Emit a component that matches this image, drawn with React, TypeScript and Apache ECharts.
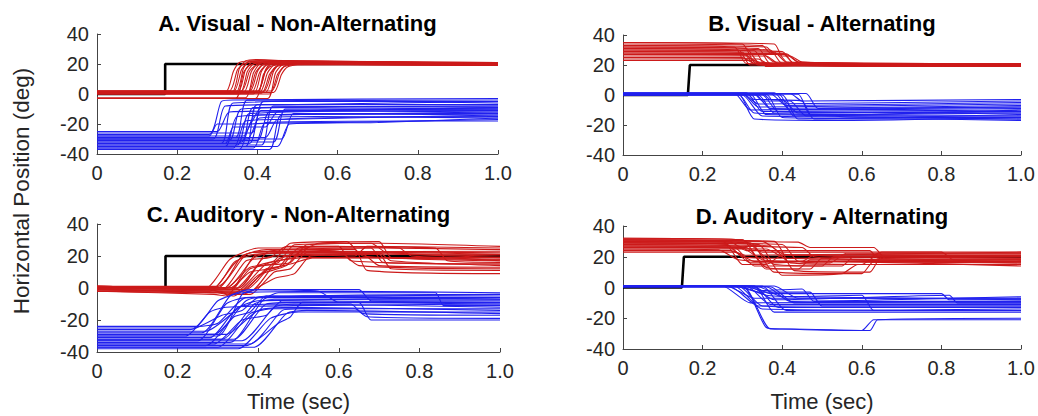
import React, { useEffect, useRef } from "react";
import * as echarts from "echarts";

const FONT = "'Liberation Sans', Arial, Helvetica, sans-serif";
const RED = "#cc1a1a";
const BLUE = "#2020ee";

const panelTitles = [
  "A. Visual - Non-Alternating",
  "B. Visual - Alternating",
  "C. Auditory - Non-Alternating",
  "D. Auditory - Alternating",
];
const xLabel = "Time (sec)";
const yLabel = "Horizontal Position (deg)";

// target (black) steps, flat [t, y, ...]
const targetA = [0, 0, 0.17, 0, 0.17, 20, 1, 20];
const targetB = [0, 0, 0.163, 0, 0.168, 20, 1, 20];
const targetC = [0, 0, 0.17, 0, 0.17, 20, 1, 20];
const targetD = [0, 0, 0.148, 0, 0.153, 20, 1, 20];

// eye traces, each a flat [t, y, t, y, ...] list
const redA = [
  [0, 1, 0.32, 1, 0.34, 15, 0.355, 21, 0.38, 22, 0.5, 21, 1, 20],
  [0, 2, 0.33, 2, 0.35, 16, 0.365, 20, 0.39, 21, 1, 19.5],
  [0, 0.5, 0.335, 0.5, 0.355, 17, 0.37, 22, 0.4, 23, 0.55, 21, 1, 20.5],
  [0, 1.5, 0.34, 1.5, 0.36, 16, 0.375, 21, 0.4, 22, 1, 21],
  [0, -3, 0.345, -3, 0.365, 14, 0.38, 19, 0.41, 21, 1, 19],
  [0, 1, 0.35, 1, 0.37, 16, 0.385, 21, 0.41, 22.5, 1, 20],
  [0, 0, 0.355, 0, 0.375, 15, 0.39, 20, 0.42, 21, 1, 20],
  [0, 2, 0.36, 2, 0.38, 15, 0.395, 19, 0.42, 20, 1, 19],
  [0, 1, 0.365, 1, 0.385, 15, 0.4, 20, 0.43, 21.5, 1, 21],
  [0, -2.5, 0.37, -2.5, 0.39, 14, 0.405, 20, 0.43, 22, 1, 20],
  [0, 0.5, 0.375, 0.5, 0.395, 14, 0.41, 19, 0.44, 20.5, 1, 19.5],
  [0, 1.5, 0.38, 1.5, 0.4, 15, 0.415, 20, 0.44, 21, 1, 20.5],
  [0, 1, 0.385, 1, 0.405, 14, 0.42, 19, 0.45, 20, 1, 19],
  [0, 0, 0.39, 0, 0.41, 15, 0.425, 20, 0.45, 21, 1, 21],
  [0, -3, 0.395, -3, 0.415, 13, 0.43, 18, 0.46, 20, 1, 20],
  [0, 2, 0.4, 2, 0.42, 15, 0.435, 20, 0.46, 21, 1, 19.5],
  [0, 1, 0.405, 1, 0.425, 14, 0.44, 19, 0.47, 20.5, 1, 20],
  [0, 0.5, 0.41, 0.5, 0.43, 13, 0.445, 18, 0.47, 19.5, 1, 21],
  [0, 1.5, 0.415, 1.5, 0.435, 14, 0.45, 19, 0.48, 20, 1, 19],
  [0, 1, 0.42, 1, 0.44, 15, 0.455, 20, 0.48, 21, 1, 20],
  [0, -3, 0.425, -3, 0.445, 14, 0.46, 19, 0.49, 20, 1, 20.5],
  [0, 0, 0.43, 0, 0.45, 13, 0.465, 18, 0.49, 19.5, 1, 19.5],
  [0, 2, 0.435, 2, 0.455, 14, 0.47, 19, 0.5, 20, 1, 20],
  [0, 1, 0.44, 1, 0.46, 13, 0.475, 18, 0.5, 19.5, 1, 19.5],
  [0, 0.5, 0.345, 0.5, 0.365, 17, 0.38, 22, 0.41, 22, 1, 20.5],
  [0, 1.5, 0.4, 1.5, 0.42, 16, 0.435, 21, 0.47, 21, 1, 19.5],
];

const blueA = [
  [0, -27, 0.28, -27, 0.31, -5, 0.34, -4, 1, -3],
  [0, -30, 0.29, -30, 0.32, -8, 0.5, -7, 1, -5],
  [0, -25, 0.3, -25, 0.33, -12, 0.6, -11, 1, -9],
  [0, -33, 0.31, -33, 0.34, -6, 1, -4],
  [0, -35, 0.32, -35, 0.35, -15, 0.7, -13, 1, -12],
  [0, -31, 0.33, -31, 0.36, -10, 1, -8],
  [0, -36, 0.34, -36, 0.37, -18, 0.45, -17, 1, -14],
  [0, -29, 0.345, -29, 0.375, -4, 1, -6],
  [0, -34, 0.35, -34, 0.38, -13, 1, -11],
  [0, -37, 0.355, -37, 0.385, -20, 0.6, -19, 1, -17],
  [0, -32, 0.36, -32, 0.39, -9, 1, -10],
  [0, -28, 0.365, -28, 0.395, -14, 1, -13],
  [0, -35, 0.37, -35, 0.4, -7, 1, -7],
  [0, -30, 0.375, -30, 0.405, -16, 0.55, -15, 1, -16],
  [0, -33, 0.38, -33, 0.41, -11, 1, -12],
  [0, -26, 0.385, -26, 0.415, -5, 1, -5],
  [0, -36, 0.39, -36, 0.42, -19, 0.8, -18, 1, -18],
  [0, -31, 0.4, -31, 0.43, -12, 1, -10],
  [0, -34, 0.41, -34, 0.44, -8, 1, -9],
  [0, -29, 0.42, -29, 0.45, -17, 1, -15],
  [0, -37, 0.43, -37, 0.46, -14, 1, -13],
  [0, -32, 0.44, -32, 0.47, -10, 1, -11],
  [0, -35, 0.45, -35, 0.48, -20, 0.7, -19, 1, -16],
  [0, -30, 0.46, -30, 0.49, -13, 1, -14],
  [0, -28, 0.28, -28, 0.3, -20, 0.38, -20, 0.41, -9, 1, -8],
  [0, -33, 0.32, -33, 0.34, -22, 0.42, -22, 0.45, -12, 1, -10],
];

const redB = [
  [0, 35, 0.3, 34, 0.33, 22, 0.4, 21, 1, 20],
  [0, 33, 0.28, 32, 0.31, 21, 1, 19.5],
  [0, 31, 0.29, 30, 0.32, 20, 1, 20.5],
  [0, 29, 0.3, 28.5, 0.33, 21, 1, 21],
  [0, 27, 0.31, 26.5, 0.34, 20, 1, 19],
  [0, 25, 0.32, 24.5, 0.35, 20, 1, 20],
  [0, 23, 0.33, 23, 0.36, 19.5, 1, 20],
  [0, 34, 0.35, 33, 0.37, 28, 0.4, 28, 0.43, 21, 1, 20.5],
  [0, 32, 0.34, 31, 0.37, 21, 1, 19.5],
  [0, 30, 0.33, 29.5, 0.36, 19, 0.5, 20, 1, 20],
  [0, 28, 0.35, 27.5, 0.38, 22, 1, 21],
  [0, 26, 0.36, 26, 0.39, 21, 1, 20],
  [0, 24, 0.34, 24, 0.37, 20, 1, 19],
  [0, 33, 0.36, 32, 0.38, 27, 0.41, 27, 0.44, 22, 1, 20],
  [0, 31, 0.37, 30, 0.4, 21, 1, 20.5],
  [0, 29, 0.38, 28.5, 0.41, 22, 1, 21],
  [0, 27, 0.39, 27, 0.42, 20, 1, 19.5],
  [0, 35, 0.38, 34, 0.4, 26, 0.42, 26, 0.45, 22, 1, 20],
  [0, 30, 0.4, 29, 0.43, 21, 1, 20],
  [0, 28, 0.41, 27.5, 0.44, 22, 0.6, 20, 1, 19],
  [0, 25, 0.3, 25, 0.33, 21, 0.7, 19, 1, 20.5],
  [0, 32, 0.31, 31, 0.34, 22, 0.5, 21, 1, 20],
];

const blueB = [
  [0, 1, 0.28, 1, 0.32, -10, 1, -8],
  [0, 0.5, 0.29, 0.5, 0.33, -12, 0.6, -13, 1, -12],
  [0, 1, 0.3, 1, 0.34, -8, 1, -6],
  [0, 0, 0.3, 0, 0.35, -14, 1, -15],
  [0, 1.5, 0.31, 1.5, 0.35, -11, 1, -10],
  [0, 0.5, 0.32, 0.5, 0.36, -13, 1, -14],
  [0, 1, 0.33, 1, 0.37, -9, 1, -7],
  [0, 0, 0.34, 0, 0.38, -12, 1, -11],
  [0, 1, 0.35, 1, 0.37, -3, 0.45, -4, 0.48, -16, 1, -16],
  [0, 0.5, 0.36, 0.5, 0.4, -15, 0.78, -16, 1, -17],
  [0, 1, 0.37, 1, 0.41, -7, 1, -5],
  [0, 1.5, 0.38, 1.5, 0.42, -10, 1, -9],
  [0, 0, 0.4, 0, 0.44, -16, 1, -13],
  [0, 1, 0.42, 1, 0.45, -4, 1, -3],
  [0, 0.5, 0.44, 0.5, 0.47, -13, 0.7, -15, 1, -16],
  [0, 1, 0.46, 1, 0.49, -9, 1, -8],
  [0, 1, 0.31, 1, 0.33, -3, 0.4, -3, 0.44, -12, 1, -11],
  [0, 0.5, 0.33, 0.5, 0.35, -4, 0.42, -4, 0.46, -14, 1, -14],
  [0, 1, 0.3, 1, 0.34, -6, 1, -4],
  [0, 0, 0.35, 0, 0.39, -11, 1, -12],
  [0, 1, 0.39, 1, 0.43, -14, 1, -10],
  [0, 0.5, 0.29, 0.5, 0.33, -16, 0.55, -17, 1, -15],
];

const redC = [
  [0, 0, 0.27, 0, 0.33, 18, 0.4, 25, 0.7, 25, 1, 24],
  [0, -1, 0.28, -2, 0.34, 15, 0.38, 22, 0.5, 23, 0.55, 28, 0.7, 29, 0.73, 19, 1, 18],
  [0, 1, 0.3, 0, 0.36, 20, 0.42, 24, 0.6, 23, 0.65, 14, 1, 12],
  [0, -2, 0.29, -4, 0.32, -5, 0.38, 12, 0.45, 16, 0.49, 27, 0.68, 28, 0.72, 22, 1, 21],
  [0, 0, 0.31, -1, 0.37, 17, 0.43, 19, 0.47, 26, 0.84, 25, 0.87, 17, 1, 16],
  [0, 1, 0.32, 0, 0.38, 13, 0.48, 16, 0.52, 27, 0.7, 28, 1, 26],
  [0, -1, 0.3, -3, 0.34, -5, 0.4, 8, 0.47, 14, 0.51, 24, 0.64, 24, 0.67, 11, 1, 9],
  [0, 0, 0.33, -1, 0.39, 20, 0.46, 22, 1, 20],
  [0, -2, 0.34, -3, 0.42, 15, 0.5, 20, 0.53, 26, 0.75, 25, 0.78, 20, 1, 19],
  [0, 1, 0.35, 0, 0.41, 18, 0.44, 20, 0.7, 21, 0.73, 12, 1, 11],
  [0, 0, 0.28, -1, 0.33, -4, 0.38, -4, 0.44, 10, 0.48, 12, 0.52, 22, 1, 23],
  [0, -1, 0.36, -2, 0.42, 12, 0.46, 14, 0.5, 25, 0.6, 26, 0.63, 17, 1, 15],
  [0, 1, 0.3, 1, 0.37, 21, 0.42, 23, 1, 22],
  [0, 0, 0.37, -1, 0.44, 16, 0.52, 19, 0.85, 19, 1, 17],
  [0, -2, 0.31, -3, 0.36, -4, 0.44, 6, 0.49, 9, 0.53, 20, 0.66, 21, 0.7, 14, 1, 13],
  [0, 0, 0.29, 0, 0.34, 16, 0.39, 21, 0.58, 22, 1, 19],
  [0, 1, 0.33, 0, 0.38, 10, 0.45, 13, 0.49, 23, 0.8, 22, 1, 21],
  [0, -1, 0.38, -2, 0.45, 18, 0.5, 21, 0.64, 20, 0.67, 26, 1, 25],
  [0, 0, 0.34, -1, 0.4, 14, 0.44, 17, 0.48, 28, 0.62, 29, 0.66, 20, 1, 17],
  [0, 1, 0.32, 0, 0.39, 19, 0.44, 22, 0.7, 22, 0.73, 17, 1, 14],
  [0, -1, 0.3, -2, 0.35, -3, 0.42, 11, 0.48, 15, 0.54, 19, 1, 18],
  [0, 0, 0.35, 0, 0.42, 22, 0.46, 24, 0.68, 25, 0.71, 16, 1, 15],
];

const blueC = [
  [0, -25, 0.24, -25, 0.3, -8, 0.36, -3, 0.6, -2, 1, -3],
  [0, -30, 0.22, -30, 0.28, -15, 0.32, -12, 0.5, -11, 1, -10],
  [0, -33, 0.25, -33, 0.32, -10, 0.37, -6, 1, -6],
  [0, -28, 0.26, -28, 0.33, -5, 0.38, -1, 0.65, -1, 0.68, -8, 1, -8],
  [0, -36, 0.27, -36, 0.34, -18, 0.38, -15, 0.42, -5, 1, -5],
  [0, -31, 0.28, -31, 0.35, -12, 0.45, -10, 1, -12],
  [0, -35, 0.29, -35, 0.36, -20, 0.42, -17, 0.46, -8, 1, -9],
  [0, -24, 0.25, -24, 0.3, -22, 0.37, -6, 0.7, -5, 1, -4],
  [0, -37, 0.3, -37, 0.38, -16, 0.44, -13, 0.64, -13, 0.67, -18, 1, -19],
  [0, -32, 0.31, -32, 0.39, -10, 0.44, -7, 1, -7],
  [0, -29, 0.32, -29, 0.4, -14, 0.48, -12, 1, -14],
  [0, -34, 0.33, -34, 0.41, -8, 0.45, -3, 0.84, -3, 0.86, -11, 1, -11],
  [0, -38, 0.35, -38, 0.43, -19, 0.5, -15, 1, -15],
  [0, -27, 0.27, -27, 0.36, -11, 0.4, -8, 1, -6],
  [0, -33, 0.36, -33, 0.44, -12, 0.49, -10, 0.63, -10, 0.66, -16, 1, -17],
  [0, -36, 0.37, -36, 0.45, -22, 0.48, -18, 0.51, -9, 1, -10],
  [0, -30, 0.3, -30, 0.36, -4, 0.4, -1, 0.55, -2, 0.6, -9, 1, -9],
  [0, -35, 0.38, -35, 0.46, -14, 0.5, -13, 1, -13],
  [0, -26, 0.23, -26, 0.31, -17, 0.36, -14, 0.4, -6, 1, -4],
  [0, -32, 0.34, -32, 0.42, -10, 0.5, -9, 0.65, -9, 0.68, -20, 1, -20],
  [0, -37, 0.39, -37, 0.47, -16, 0.52, -14, 1, -16],
  [0, -29, 0.29, -29, 0.37, -8, 0.42, -5, 1, -7],
];

const redD = [
  [0, 31, 0.25, 30, 0.3, 20, 0.4, 19, 1, 20],
  [0, 29, 0.26, 28, 0.32, 16, 0.45, 17, 0.48, 21, 1, 22],
  [0, 27, 0.28, 26, 0.33, 14, 0.5, 14, 0.53, 20, 1, 19],
  [0, 25, 0.24, 24.5, 0.29, 18, 0.38, 17, 1, 17],
  [0, 32, 0.3, 31, 0.36, 12, 0.47, 12, 0.5, 19, 1, 21],
  [0, 30, 0.32, 29, 0.38, 10, 0.6, 9, 0.63, 17, 1, 18],
  [0, 28, 0.29, 27, 0.35, 18, 0.42, 17, 1, 16],
  [0, 26, 0.33, 25, 0.38, 15, 0.55, 14, 0.58, 20, 1, 20],
  [0, 24, 0.27, 24, 0.31, 21, 1, 23],
  [0, 31, 0.35, 30, 0.4, 22, 0.45, 21, 0.62, 20, 0.65, 23, 1, 23],
  [0, 29, 0.34, 28, 0.4, 8, 0.55, 9, 0.59, 15, 1, 15],
  [0, 27, 0.45, 26, 0.48, 20, 0.6, 18, 1, 17],
  [0, 30, 0.44, 29.5, 0.47, 26, 0.63, 26, 0.66, 19, 1, 19],
  [0, 28, 0.37, 27, 0.42, 16, 0.6, 15, 0.64, 21, 1, 21],
  [0, 25, 0.36, 25, 0.41, 19, 1, 18],
  [0, 32, 0.3, 31, 0.35, 23, 0.8, 23, 0.83, 18, 1, 17],
  [0, 26, 0.31, 26, 0.36, 13, 0.44, 12, 0.47, 18, 1, 16],
  [0, 29, 0.4, 28, 0.44, 17, 0.52, 16, 0.56, 22, 1, 22],
  [0, 23, 0.28, 23, 0.33, 17, 0.5, 17, 1, 14],
  [0, 31, 0.38, 30, 0.43, 11, 0.62, 10, 0.65, 20, 1, 20],
  [0, 27, 0.26, 27, 0.3, 15, 0.36, 15, 0.4, 21, 1, 21],
  [0, 30, 0.27, 29.5, 0.31, 24, 0.62, 24, 0.64, 19, 1, 18],
];

const blueD = [
  [0, 1, 0.25, 1, 0.32, -10, 1, -9],
  [0, 1, 0.26, 1, 0.33, -7, 1, -7],
  [0, 0.5, 0.27, 0.5, 0.34, -12, 1, -12],
  [0, 1, 0.28, 1, 0.35, -14, 1, -15],
  [0, 1, 0.29, 1, 0.36, -5, 0.45, -6, 1, -8],
  [0, 0.5, 0.3, 0.5, 0.36, -26, 0.4, -27, 0.6, -28, 0.63, -21, 1, -21],
  [0, 1, 0.3, 1, 0.37, -27, 0.42, -27, 0.62, -28, 0.64, -21, 1, -20],
  [0, 1, 0.31, 1, 0.37, -11, 1, -11],
  [0, 0.5, 0.32, 0.5, 0.38, -8, 0.82, -5, 0.84, -10, 1, -10],
  [0, 1, 0.33, 1, 0.39, -13, 1, -13],
  [0, 1, 0.3, 1, 0.35, -2, 0.45, -1, 0.48, -9, 1, -9],
  [0, 0.5, 0.34, 0.5, 0.4, -6, 0.6, -5, 0.63, -15, 1, -15],
  [0, 1, 0.28, 1, 0.34, -3, 0.47, -3, 0.5, -12, 1, -12],
  [0, 1, 0.35, 1, 0.41, -15, 1, -14],
  [0, 0.5, 0.36, 0.5, 0.42, -9, 1, -6],
  [0, 1, 0.32, 1, 0.37, -4, 0.8, -4, 0.82, -8, 1, -8],
  [0, 1, 0.33, 1, 0.38, -16, 1, -16],
  [0, 0.5, 0.37, 0.5, 0.43, -10, 1, -10],
  [0, 1, 0.29, 1, 0.35, -12, 0.6, -13, 1, -13],
  [0, 1, 0.38, 1, 0.44, -7, 1, -7],
];

const targets = [targetA, targetB, targetC, targetD];
const reds = [redA, redB, redC, redD];
const blues = [blueA, blueB, blueC, blueD];

// layout (pixels)
const grids = [
  { left: 97, top: 34, width: 401, height: 120 },
  { left: 623, top: 35, width: 398, height: 120 },
  { left: 97, top: 224, width: 403, height: 128 },
  { left: 623, top: 226, width: 398, height: 123 },
];

function pairs(flat: number[]): number[][] {
  const out: number[][] = [];
  for (let i = 0; i + 1 < flat.length; i += 2) out.push([flat[i], flat[i + 1]]);
  return out;
}

export default function App() {
  const ref = useRef<HTMLDivElement>(null);
  useEffect(() => {
    if (!ref.current) return;
    const chart = echarts.init(ref.current, null, { renderer: "svg" });
    const axisColor = "#444";
    const textColor = "#262626";

    const xAxis = grids.map((_, i) => ({
      type: "value",
      gridIndex: i,
      min: 0,
      max: 1,
      interval: 0.2,
      axisLine: { show: true, onZero: false, lineStyle: { color: axisColor, width: 1 } },
      axisTick: { show: true, inside: true, length: 4, lineStyle: { color: axisColor } },
      splitLine: { show: false },
      axisLabel: {
        fontFamily: FONT,
        fontSize: 20,
        color: textColor,
        margin: 9,
        formatter: (v: number) => (v === 0 ? "0" : v.toFixed(1)),
      },
    }));
    const yAxis = grids.map((_, i) => ({
      type: "value",
      gridIndex: i,
      min: -40,
      max: 40,
      interval: 20,
      axisLine: { show: true, lineStyle: { color: axisColor, width: 1 } },
      axisTick: { show: true, inside: true, length: 4, lineStyle: { color: axisColor } },
      splitLine: { show: false },
      axisLabel: { fontFamily: FONT, fontSize: 20, color: textColor, margin: 8 },
    }));

    const series: any[] = [];
    for (let p = 0; p < 4; p++) {
      series.push({
        type: "line",
        xAxisIndex: p,
        yAxisIndex: p,
        data: pairs(targets[p]),
        showSymbol: false,
        silent: true,
        lineStyle: { color: "#000", width: 2.6 },
        z: 1,
      });
      reds[p].forEach((tr) =>
        series.push({
          type: "line",
          xAxisIndex: p,
          yAxisIndex: p,
          data: pairs(tr),
          showSymbol: false,
          silent: true,
          smooth: 0.2,
          lineStyle: { color: RED, width: 1.1 },
          z: 2,
        })
      );
      blues[p].forEach((tr) =>
        series.push({
          type: "line",
          xAxisIndex: p,
          yAxisIndex: p,
          data: pairs(tr),
          showSymbol: false,
          silent: true,
          smooth: 0.2,
          lineStyle: { color: BLUE, width: 1.1 },
          z: 3,
        })
      );
    }

    const titleY = [23, 23, 214, 216];
    const graphic: any[] = grids.map((g, i) => ({
      type: "text",
      x: g.left + g.width / 2,
      y: titleY[i],
      style: {
        text: panelTitles[i],
        fontFamily: FONT,
        fontSize: 22,
        fontWeight: "bold",
        fill: "#000",
        textAlign: "center",
        textVerticalAlign: "middle",
        align: "center",
        verticalAlign: "middle",
      },
    }));
    graphic.push({
      type: "text",
      x: 21,
      y: 191,
      rotation: Math.PI / 2,
      style: {
        text: yLabel,
        fontFamily: FONT,
        fontSize: 22.5,
        fill: textColor,
        textAlign: "center",
        textVerticalAlign: "middle",
        align: "center",
        verticalAlign: "middle",
      },
    });
    [2, 3].forEach((i) => {
      const g = grids[i];
      graphic.push({
        type: "text",
        x: g.left + g.width / 2,
        y: 401,
        style: {
          text: xLabel,
          fontFamily: FONT,
          fontSize: 22,
          fill: textColor,
          textAlign: "center",
          textVerticalAlign: "middle",
          align: "center",
          verticalAlign: "middle",
        },
      });
    });

    chart.setOption({
      animation: false,
      backgroundColor: "#fff",
      grid: grids.map((g) => ({ ...g, containLabel: false })),
      xAxis,
      yAxis,
      series,
      graphic,
    });
    return () => chart.dispose();
  }, []);
  return (
    <div
      ref={ref}
      style={{ position: "fixed", left: 0, top: 0, width: 1038, height: 416 }}
    />
  );
}
